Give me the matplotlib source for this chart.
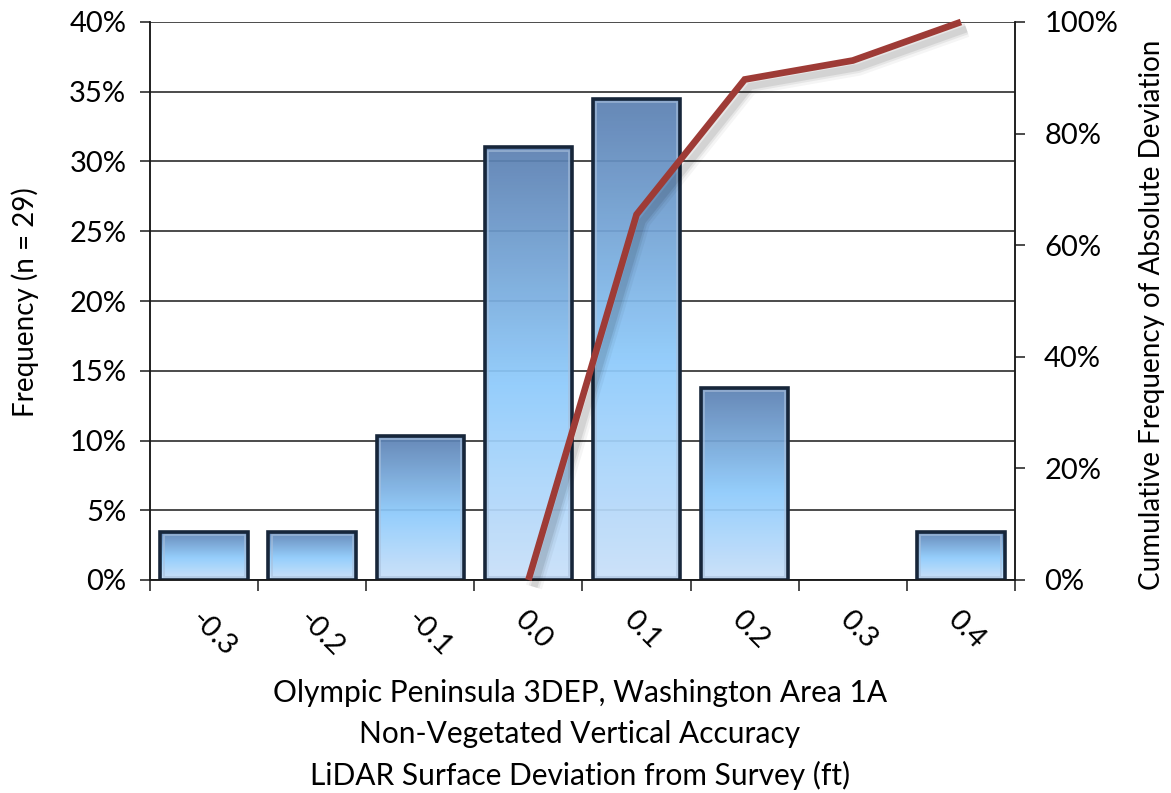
import matplotlib
matplotlib.use("Agg")
import matplotlib.pyplot as plt
import numpy as np
from matplotlib.colors import LinearSegmentedColormap
from matplotlib.patches import Rectangle
import matplotlib.patheffects as pe

plt.rcParams['font.family'] = ['Lato', 'DejaVu Sans']

categories = ['-0.3', '-0.2', '-0.1', '0.0', '0.1', '0.2', '0.3', '0.4']
frequency = [3.45, 3.45, 10.34, 31.03, 34.48, 13.79, 0.0, 3.45]
cum_categories = ['0.0', '0.1', '0.2', '0.3', '0.4']
cum_freq = [0.0, 65.5, 89.7, 93.1, 100.0]
left_ticks = [0, 5, 10, 15, 20, 25, 30, 35, 40]
right_ticks = [0, 20, 40, 60, 80, 100]
xlabel_lines = ['Olympic Peninsula 3DEP, Washington Area 1A',
                'Non-Vegetated Vertical Accuracy',
                'LiDAR Surface Deviation from Survey (ft)']

TFS = 21
LFS = 21.5
fig = plt.figure(figsize=(11.71, 7.93), dpi=100)
ax = fig.add_axes([150/1171, 1-580/793, 865/1171, 558/793])
ax2 = ax.twinx()

x = np.arange(len(categories))
width = 0.81

for t in left_ticks:
    ax.axhline(t, color='#1a1a1a', lw=1.1, zorder=1)

cmap = LinearSegmentedColormap.from_list('bar', [(0.0, '#c9e0f9'), (0.45, '#8ecbfc'), (1.0, '#5b7fb1')])
grad = np.linspace(0, 1, 256).reshape(-1, 1)
bars = ax.bar(x, frequency, width=width, color='none', edgecolor='#17263a', linewidth=2.6, zorder=3)
for b, v in zip(bars, frequency):
    if v <= 0:
        b.set_visible(False)
        continue
    x0, w, h = b.get_x(), b.get_width(), b.get_height()
    im = ax.imshow(grad, cmap=cmap, origin='lower', aspect='auto',
                   extent=[x0, x0 + w, 0, h], zorder=2, alpha=0.93)
    clip = Rectangle((x0, 0), w, h, transform=ax.transData)
    im.set_clip_path(clip)
    ax.add_patch(Rectangle((x0 + 0.03, 0.25), w - 0.06, h - 0.5, fill=False,
                           edgecolor='#a9c0dc', lw=1.2, alpha=0.7, zorder=2.5))
ax.set_xlim(-0.5, len(categories)-0.5)
ax.set_ylim(0, 40)

ax.set_xticks(x)
ax.set_xticklabels(categories, rotation=-45, ha='left', va='top', rotation_mode='anchor', fontsize=TFS)
ax.tick_params(axis='x', which='major', length=0, pad=19)
ax.set_xticks(np.arange(-0.5, len(categories), 1.0), minor=True)
ax.tick_params(axis='x', which='minor', length=8, width=1.1, direction='out', color='#1a1a1a')

ax.set_yticks(left_ticks)
ax.set_yticklabels([f'{t}%' for t in left_ticks], fontsize=TFS)
ax.tick_params(axis='y', length=7, width=1.1, color='#1a1a1a', pad=10)

ax2.set_ylim(0, 100)
ax2.set_yticks(right_ticks)
ax2.set_yticklabels([f'{t}%' for t in right_ticks], fontsize=TFS)
ax2.tick_params(axis='y', length=7, width=1.1, color='#1a1a1a', pad=14)

cx = [categories.index(c) for c in cum_categories]
shadow = [pe.SimpleLineShadow(offset=(4, -5), shadow_color='#000000', alpha=0.04, linewidth=12),
          pe.SimpleLineShadow(offset=(4, -5), shadow_color='#000000', alpha=0.06, linewidth=8),
          pe.SimpleLineShadow(offset=(4, -5), shadow_color='#000000', alpha=0.08, linewidth=5),
          pe.Normal()]
ax2.plot(cx, cum_freq, color='#9e3b36', lw=4.8, solid_joinstyle='miter', solid_capstyle='butt',
         path_effects=shadow, zorder=5, clip_on=False)

for a in (ax, ax2):
    a.spines['top'].set_visible(False)
    for s in ('left', 'right', 'bottom'):
        a.spines[s].set_color('#1a1a1a')
        a.spines[s].set_linewidth(1.1)

fig.text(25/1171, 1 - 302/793, 'Frequency (n = 29)', rotation=90, ha='center', va='center', fontsize=20)
fig.text(1152/1171, 1 - 315/793, 'Cumulative Frequency of Absolute Deviation', rotation=90,
         ha='center', va='center', fontsize=20)

for i, line in enumerate(xlabel_lines):
    fig.text(580/1171, 1 - (693 + 41*i)/793, line, ha='center', va='center', fontsize=LFS)

fig.savefig('out.png', dpi=100)
